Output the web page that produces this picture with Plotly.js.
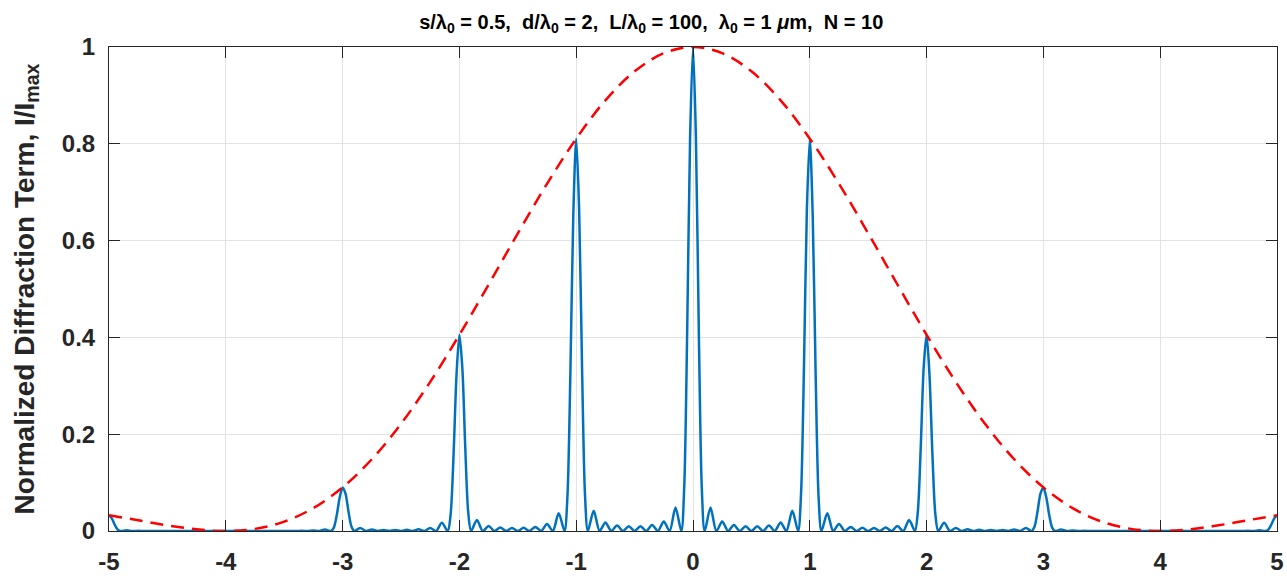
<!DOCTYPE html>
<html>
<head>
<meta charset="utf-8">
<script src="https://cdn.plot.ly/plotly-3.0.1.min.js"></script>
<style>html,body{margin:0;padding:0;background:#fff;}#chart{width:1287px;height:576px;}</style>
</head>
<body>
<div id="chart"></div>
<script>
// Normalized position (x axis) of the diffraction pattern
var xPattern = [
 -5,
 -4.975, -4.95, -4.925, -4.9, -4.85, -4.8, -4.75, -4.7, -4.65, -4.6, -4.55, -4.5, -4.45, -4.4, -4.35, -4.3, -4.25, -4.2, -4.15, -4.1, -4.075, -4.05, -4.025, -4,
 -3.975, -3.95, -3.925, -3.9, -3.85, -3.8, -3.75, -3.7, -3.65, -3.6, -3.55, -3.5, -3.45, -3.4, -3.35, -3.3, -3.25, -3.2, -3.15, -3.1, -3.075, -3.05, -3.025, -3,
 -2.975, -2.95, -2.925, -2.9, -2.85, -2.8, -2.75, -2.7, -2.65, -2.6, -2.55, -2.5, -2.45, -2.4, -2.35, -2.3, -2.25, -2.2, -2.15, -2.1, -2.075, -2.05, -2.025, -2,
 -1.975, -1.95, -1.925, -1.9, -1.85, -1.8, -1.75, -1.7, -1.65, -1.6, -1.55, -1.5, -1.45, -1.4, -1.35, -1.3, -1.25, -1.2, -1.15, -1.1, -1.075, -1.05, -1.025, -1,
 -0.975, -0.95, -0.925, -0.9, -0.85, -0.8, -0.75, -0.7, -0.65, -0.6, -0.55, -0.5, -0.45, -0.4, -0.35, -0.3, -0.25, -0.2, -0.15, -0.1, -0.075, -0.05, -0.025, 0,
 0.025, 0.05, 0.075, 0.1, 0.15, 0.2, 0.25, 0.3, 0.35, 0.4, 0.45, 0.5, 0.55, 0.6, 0.65, 0.7, 0.75, 0.8, 0.85, 0.9, 0.925, 0.95, 0.975,
 1, 1.025, 1.05, 1.075, 1.1, 1.15, 1.2, 1.25, 1.3, 1.35, 1.4, 1.45, 1.5, 1.55, 1.6, 1.65, 1.7, 1.75, 1.8, 1.85, 1.9, 1.925, 1.95, 1.975,
 2, 2.025, 2.05, 2.075, 2.1, 2.15, 2.2, 2.25, 2.3, 2.35, 2.4, 2.45, 2.5, 2.55, 2.6, 2.65, 2.7, 2.75, 2.8, 2.85, 2.9, 2.925, 2.95, 2.975,
 3, 3.025, 3.05, 3.075, 3.1, 3.15, 3.2, 3.25, 3.3, 3.35, 3.4, 3.45, 3.5, 3.55, 3.6, 3.65, 3.7, 3.75, 3.8, 3.85, 3.9, 3.925, 3.95, 3.975,
 4, 4.025, 4.05, 4.075, 4.1, 4.15, 4.2, 4.25, 4.3, 4.35, 4.4, 4.45, 4.5, 4.55, 4.6, 4.65, 4.7, 4.75, 4.8, 4.85, 4.9, 4.925, 4.95, 4.975,
 5
];
// Normalized diffraction term (blue curve)
var yPattern = [
 0.0324,
 0.0256, 0.0125, 0.0027, 0, 0.0013, 0, 0.0004, 0, 0.0002, 0, 0.0001, 0, 0.0001, 0, 0.0001, 0, 0.0001, 0, 0.0001, 0, 0, 0.0001, 0, 0,
 0, 0.0001, 0, 0, 0.0001, 0, 0.0001, 0, 0.0001, 0, 0.0002, 0, 0.0002, 0, 0.0004, 0, 0.0010, 0, 0.0030, 0, 0.0069, 0.0328, 0.0692, 0.0901,
 0.0773, 0.0410, 0.0097, 0, 0.0060, 0, 0.0030, 0, 0.0022, 0, 0.0021, 0, 0.0024, 0, 0.0034, 0, 0.0062, 0, 0.0168, 0, 0.0344, 0.1574, 0.3210, 0.4053,
 0.3375, 0.1740, 0.0400, 0, 0.0227, 0, 0.0102, 0, 0.0070, 0, 0.0061, 0, 0.0065, 0, 0.0085, 0, 0.0144, 0, 0.0367, 0, 0.0719, 0.3241, 0.6514, 0.8106,
 0.6651, 0.3383, 0.0767, 0, 0.0417, 0, 0.0178, 0, 0.0115, 0, 0.0096, 0, 0.0098, 0, 0.0123, 0, 0.0197, 0, 0.0483, 0, 0.0916, 0.4085, 0.8121, 1,
 0.8121, 0.4085, 0.0916, 0, 0.0483, 0, 0.0197, 0, 0.0123, 0, 0.0098, 0, 0.0096, 0, 0.0115, 0, 0.0178, 0, 0.0417, 0, 0.0767, 0.3383, 0.6651,
 0.8106, 0.6514, 0.3241, 0.0719, 0, 0.0367, 0, 0.0144, 0, 0.0085, 0, 0.0065, 0, 0.0061, 0, 0.0070, 0, 0.0102, 0, 0.0227, 0, 0.0400, 0.1740, 0.3375,
 0.4053, 0.3210, 0.1574, 0.0344, 0, 0.0168, 0, 0.0062, 0, 0.0034, 0, 0.0024, 0, 0.0021, 0, 0.0022, 0, 0.0030, 0, 0.0060, 0, 0.0097, 0.0410, 0.0773,
 0.0901, 0.0692, 0.0328, 0.0069, 0, 0.0030, 0, 0.0010, 0, 0.0004, 0, 0.0002, 0, 0.0002, 0, 0.0001, 0, 0.0001, 0, 0.0001, 0, 0, 0.0001, 0,
 0, 0, 0.0001, 0, 0, 0.0001, 0, 0.0001, 0, 0.0001, 0, 0.0001, 0, 0.0001, 0, 0.0002, 0, 0.0004, 0, 0.0013, 0, 0.0027, 0.0125, 0.0256,
 0.0324
];
// Single-slit envelope (red dashed curve)
var xEnvelope = [-5, -4.75, -4.5, -4.25, -4, -3.75, -3.5, -3.25, -3, -2.75, -2.5, -2.25, -2, -1.75, -1.5, -1.25, -1, -0.75, -0.5, -0.25, 0,
                 0.25, 0.5, 0.75, 1, 1.25, 1.5, 1.75, 2, 2.25, 2.5, 2.75, 3, 3.25, 3.5, 3.75, 4, 4.25, 4.5, 4.75, 5];
var yEnvelope = [0.0324, 0.0222, 0.0117, 0.0034, 0, 0.0044, 0.0194, 0.0474, 0.0901, 0.1482, 0.2214, 0.3080, 0.4053, 0.5093, 0.6150, 0.7174, 0.8106, 0.8898, 0.9497, 0.9872, 1,
                 0.9872, 0.9497, 0.8898, 0.8106, 0.7174, 0.6150, 0.5093, 0.4053, 0.3080, 0.2214, 0.1482, 0.0901, 0.0474, 0.0194, 0.0044, 0, 0.0034, 0.0117, 0.0222, 0.0324];
var xTicks = [-5, -4, -3, -2, -1, 0, 1, 2, 3, 4, 5];
var xTickLabels = ['-5', '-4', '-3', '-2', '-1', '0', '1', '2', '3', '4', '5'];
var yTicks = [0, 0.2, 0.4, 0.6, 0.8, 1];
var yTickLabels = ['0', '0.2', '0.4', '0.6', '0.8', '1'];
var titleText = 's/\u03bb<sub>0</sub> = 0.5, \u00a0d/\u03bb<sub>0</sub> = 2, \u00a0L/\u03bb<sub>0</sub> = 100, \u00a0\u03bb<sub>0</sub> = 1 <i>\u03bc</i>m, \u00a0N = 10';
var yTitleText = 'Normalized Diffraction Term, I/I<sub>max</sub>';

var FONT = 'Liberation Sans, Arial, Helvetica, sans-serif';
var AX = '#262626';

var traces = [
  {x: xPattern, y: yPattern, type: 'scatter', mode: 'lines',
   line: {color: '#0072BD', width: 2.5, shape: 'spline', smoothing: 0.8}, hoverinfo: 'skip'},
  {x: xEnvelope, y: yEnvelope, type: 'scatter', mode: 'lines',
   line: {color: '#FF0000', width: 2.5, dash: '13px,8px', shape: 'spline', smoothing: 1}, hoverinfo: 'skip'}
];

var layout = {
  width: 1287, height: 576,
  paper_bgcolor: '#ffffff', plot_bgcolor: '#ffffff',
  showlegend: false,
  margin: {l: 109, r: 10, t: 47, b: 45, pad: 0},
  title: {text: titleText, font: {family: FONT, size: 20, color: '#000000', weight: 'bold'},
          xref: 'container', x: 0.506, xanchor: 'center', yref: 'container', y: 0.974, yanchor: 'top'},
  xaxis: {range: [-5, 5], tickmode: 'array', tickvals: xTicks, ticktext: xTickLabels,
          ticks: 'inside', ticklen: 11, tickwidth: 1, tickcolor: AX,
          showline: true, linecolor: AX, linewidth: 1, mirror: 'ticks',
          showgrid: true, gridcolor: '#e3e3e3', gridwidth: 1, zeroline: false,
          tickfont: {family: FONT, size: 24, color: AX, weight: 'bold'}, ticklabelstandoff: 9},
  yaxis: {range: [0, 1], tickmode: 'array', tickvals: yTicks, ticktext: yTickLabels,
          ticks: 'inside', ticklen: 11, tickwidth: 1, tickcolor: AX,
          showline: true, linecolor: AX, linewidth: 1, mirror: 'ticks',
          showgrid: true, gridcolor: '#e3e3e3', gridwidth: 1, zeroline: false,
          tickfont: {family: FONT, size: 24, color: AX, weight: 'bold'}, ticklabelstandoff: 8,
          title: {text: yTitleText, font: {family: FONT, size: 28, color: AX, weight: 'bold'}, standoff: 19}}
};

Plotly.newPlot('chart', traces, layout, {displayModeBar: false, staticPlot: true});
</script>
</body>
</html>
